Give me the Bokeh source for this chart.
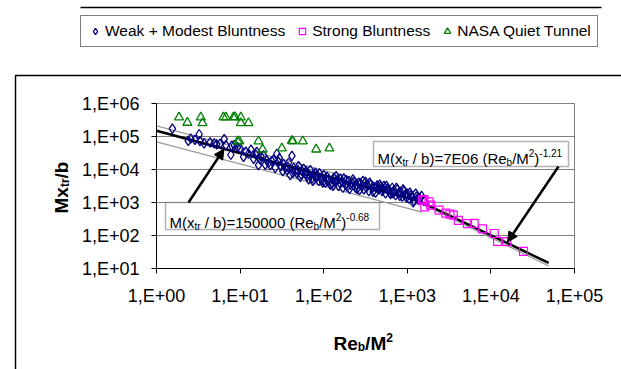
import math
from bokeh.plotting import figure
from bokeh.models import (Label, BoxAnnotation, Arrow, NormalHead, Legend, LegendItem,
                          CustomJSTickFormatter, FixedTicker)
from bokeh.embed import file_html
from bokeh.resources import INLINE

# ---------------- data ----------------
weak_re = [1.55, 2.40, 2.57, 2.88, 3.24, 3.31, 3.72, 4.37, 4.90, 5.25, 5.75, 6.46, 6.76, 7.76, 7.94, 8.51, 9.33, 10.0,
           11.0, 11.7, 12.6, 13.5, 14.5, 15.5, 15.8, 16.6, 17.4, 17.8, 19.1, 20.0, 20.9, 21.9, 22.9, 24.0, 25.1, 26.3,
           27.5, 28.8, 29.5, 30.9, 32.4, 33.1, 34.7, 36.3, 37.2, 38.0, 39.8, 41.7, 42.7, 43.7, 45.7, 47.9, 49.0, 50.1,
           52.5, 53.7, 55.0, 57.5, 60.3, 61.7, 63.1, 66.1, 67.6, 69.2, 72.4, 74.1, 75.9, 79.4, 81.3, 83.2, 87.1, 89.1,
           91.2, 95.5, 97.7, 100, 105, 110, 112, 115, 120, 126, 129, 132, 138, 141, 145, 151, 155, 158, 166, 170, 174,
           182, 186, 191, 200, 204, 209, 219, 224, 229, 240, 245, 251, 263, 269, 275, 288, 295, 302, 316, 324, 331, 347,
           355, 363, 380, 389, 398, 417, 427, 437, 457, 468, 479, 501, 513, 525, 550, 562, 575, 603, 617, 631, 661, 676,
           692, 724, 741, 759, 794, 813, 832, 871, 891, 912, 955, 977, 1000, 1047, 1072, 1096, 1148, 1175, 1202, 1259,
           1288, 1318, 1380, 1413, 1479, 1585]
weak_m = [174000, 74000, 87000, 79000, 117000, 72000, 62000, 66000, 62000, 57500, 60000, 83000, 55000, 28000, 52500,
          55000, 48000, 44000, 24000, 35000, 30000, 40000, 21000, 28000, 34000, 13500, 20000, 25000, 27000, 14000,
          19000, 16000, 13500, 18000, 20000, 11200, 30000, 17000, 22000, 12600, 8900, 14500, 11200, 9500, 12000, 16000,
          6800, 26000, 7900, 11200, 8900, 7600, 9500, 12600, 6000, 7100, 8900, 10500, 7600, 8900, 6300, 5000, 6600,
          9500, 5400, 4500, 7100, 7900, 5600, 6800, 4500, 7600, 5600, 4800, 4000, 6600, 4000, 6000, 4500, 5000, 3500,
          3800, 3200, 5600, 4200, 6300, 4800, 3200, 4000, 5250, 4200, 2800, 5400, 3500, 4800, 3000, 4500, 2600, 3500,
          3800, 5000, 4200, 2800, 3500, 2600, 4000, 2400, 3800, 3200, 4500, 2500, 4200, 2800, 3300, 2200, 4000, 3500,
          2750, 2100, 3000, 2000, 2800, 3300, 2500, 3500, 3000, 2200, 2600, 3200, 1900, 3200, 2600, 2400, 2000, 1800,
          2800, 1900, 2350, 1660, 2800, 2500, 2000, 1580, 2100, 1500, 2500, 2200, 1800, 1410, 1860, 1320, 2000, 1660,
          1480, 1000, 1120, 1860, 1500, 1260, 1170, 1320, 1580, 1120]

strong_re = [1514, 1585, 1622, 1820, 1905, 2399, 2884, 3236, 3548, 4074, 5248, 6310, 7943, 10965, 12023, 15488, 24547]
strong_m = [1175, 1230, 741, 1047, 832, 589, 479, 447, 417, 288, 229, 234, 158, 115, 66, 65, 33]

nasa_re = [1.86, 2.34, 3.39, 3.55, 6.31, 6.76, 8.32, 8.71, 10.2, 10.2, 12.6, 9.33, 9.77, 16.6, 18.6, 31.6, 41.7, 42.7,
           56.2, 81.3, 117]
nasa_m = [380000, 263000, 380000, 257000, 380000, 380000, 380000, 390000, 380000, 257000, 257000, 72000, 72000, 72000,
          40700, 43700, 74000, 72000, 72000, 40700, 43700]

fit1_re = [1, 1410]            # M(xtr/b) = 150000 (Re_b/M^2)^-0.68
fit1_m = [150000, 1085]
fit2_re = [1410, 49000]        # M(xtr/b) = 7E06 (Re_b/M^2)^-1.21
fit2_m = [1085, 14.8]
band_up_re = [1, 1500]
band_up_m = [210000, 1500]
band_lo_re = [1, 1500]
band_lo_m = [69000, 510]
band2_re = [1500, 49000]
band2_m = [900, 12]

x_ticks = [1, 10, 100, 1000, 10000, 100000]
x_tick_labels = ["1,E+00", "1,E+01", "1,E+02", "1,E+03", "1,E+04", "1,E+05"]
y_ticks = [10, 100, 1000, 10000, 100000, 1000000]
y_tick_labels = ["1,E+01", "1,E+02", "1,E+03", "1,E+04", "1,E+05", "1,E+06"]

eq1_parts = [("M(x", 0), ("tr", -1), (" / b)=150000 (Re", 0), ("b", -1), ("/M", 0), ("2", 1), (")", 0), ("-0.68", 1)]
eq2_parts = [("M(x", 0), ("tr", -1), (" / b)=7E06 (Re", 0), ("b", -1), ("/M", 0), ("2", 1), (")", 0), ("-1.21", 1)]
xlab_parts = [("Re", 0), ("b", -1), ("/M", 0), ("2", 1)]
ylab_parts = [("Mx", 0), ("tr", -1), ("/b", 0)]

# ---------------- layout helpers (pixel layout -> data coordinates) ----------------
W, H = 621, 369
FL, FR, FT, FB = 156, 574, 103, 268
DX = (FR - FL) / 5.0
DY = (FB - FT) / 5.0
LX0 = -FL / DX                 # log10 x at the canvas left edge
LY0 = 1 + FB / DY              # log10 y at the canvas top edge
FONT = "Liberation Sans"


def px2x(px):
    return 10 ** (LX0 + px / DX)


def py2y(py):
    return 10 ** (LY0 - py / DY)


REG = {' ': 278, '(': 333, ')': 333, '/': 278, '=': 584, '-': 333, '.': 278, ',': 278, '+': 584, 'E': 667,
       'M': 833, 'R': 722, 'b': 556, 'e': 556, 'r': 333, 't': 278, 'x': 500}
BOLD = {'M': 833, 'x': 556, 't': 333, 'r': 389, '/': 278, 'b': 611, 'R': 722, 'e': 556, '2': 556}


def tw(s, size, bold=False):
    t = BOLD if bold else REG
    return sum(t.get(c, 556) for c in s) * size / 1000.0


p = figure(width=W, height=H, x_axis_type="log", y_axis_type="log",
           x_range=(px2x(0), px2x(W)), y_range=(py2y(H), py2y(0)),
           output_backend="svg", toolbar_location=None,
           min_border=0, min_border_left=0, min_border_right=0, min_border_top=0, min_border_bottom=0)
p.background_fill_color = "white"
p.border_fill_color = "white"
p.outline_line_color = None
p.xgrid.grid_line_color = None
p.ygrid.grid_line_color = None

fmt_code = """
let best = 0, bd = 1e9;
for (let i = 0; i < tv.length; i++) {
  const d = Math.abs(Math.log10(tv[i]) - Math.log10(tick));
  if (d < bd) { bd = d; best = i; }
}
return tl[best];
"""
xa = p.xaxis[0]
ya = p.yaxis[0]
xa.fixed_location = y_ticks[0]
ya.fixed_location = x_ticks[0]
xa.bounds = (x_ticks[0], x_ticks[-1])
ya.bounds = (y_ticks[0], y_ticks[-1])
xa.ticker = FixedTicker(ticks=x_ticks)
ya.ticker = FixedTicker(ticks=y_ticks)
xa.formatter = CustomJSTickFormatter(args=dict(tv=x_ticks, tl=x_tick_labels), code=fmt_code)
ya.formatter = CustomJSTickFormatter(args=dict(tv=y_ticks, tl=y_tick_labels), code=fmt_code)
for ax in (xa, ya):
    ax.axis_line_color = "black"
    ax.axis_line_width = 1
    ax.major_tick_line_color = "black"
    ax.major_tick_in = 0
    ax.major_tick_out = 5
    ax.minor_tick_line_color = None
    ax.major_label_text_font = FONT
    ax.major_label_text_font_size = "18px"
    ax.major_label_text_color = "black"
xa.major_label_standoff = 12
ya.major_label_standoff = 12

# chart outer border (extends past the right and bottom edge of the picture)
p.line([px2x(15), px2x(15), px2x(W + 10)], [py2y(H + 10), py2y(75), py2y(75)],
       line_color="black", line_width=1.5)
# rule above the legend
p.line([px2x(80), px2x(601)], [py2y(7), py2y(7)], line_color="black", line_width=1.5)

# plot area: grid lines and gray frame (top/right)
p.multi_line([[x_ticks[0], x_ticks[-1]] for _ in y_ticks[1:]], [[v, v] for v in y_ticks[1:]],
             line_color="#808080", line_width=1)
p.line([x_ticks[-1], x_ticks[-1]], [y_ticks[0], y_ticks[-1]], line_color="#808080", line_width=1)

# lines
p.line(band_up_re, band_up_m, line_color="#999999", line_width=1.2)
p.line(band_lo_re, band_lo_m, line_color="#999999", line_width=1.2)
p.line(band2_re, band2_m, line_color="#999999", line_width=1.2)
p.line(fit1_re, fit1_m, line_color="black", line_width=2.5)
p.line(fit2_re, fit2_m, line_color="black", line_width=2.5)

r_weak = p.scatter(weak_re, weak_m, marker="diamond", size=9.5, fill_color=None, line_color="#000080",
                   line_width=1.3)
r_strong = p.scatter(strong_re, strong_m, marker="square", size=8, fill_color=None, line_color="#FF00FF",
                     line_width=1.2)
r_nasa = p.scatter(nasa_re, nasa_m, marker="triangle", size=9, fill_color=None, line_color="#008000",
                   line_width=1.3)

legend = Legend(items=[LegendItem(label="Weak + Modest Bluntness", renderers=[r_weak]),
                       LegendItem(label="Strong Bluntness", renderers=[r_strong]),
                       LegendItem(label="NASA Quiet Tunnel", renderers=[r_nasa])],
                orientation="horizontal", location=(80, H - 47),
                label_text_font=FONT, label_text_font_size="15.5px", label_text_color="black",
                glyph_width=16, glyph_height=18, label_height=18, label_standoff=2, spacing=9, padding=6,
                margin=0, border_line_color="black", border_line_width=1, background_fill_color="white",
                background_fill_alpha=1)
p.add_layout(legend)


def place_runs(x_px, base_py, parts, size, small, bold=False):
    x = x_px
    for s, lvl in parts:
        fs = size if lvl == 0 else small
        while s.startswith(" "):
            x += tw(" ", fs, bold)
            s = s[1:]
        dy = 0 if lvl == 0 else (-3.5 if lvl < 0 else 6)
        p.add_layout(Label(x=px2x(x), y=py2y(base_py - dy), text=s, text_font=FONT,
                           text_font_size="%.1fpx" % fs, text_font_style="bold" if bold else "normal",
                           text_color="black", text_align="left", text_baseline="alphabetic"))
        x += tw(s, fs, bold)


# equation boxes and arrows
p.add_layout(BoxAnnotation(left=px2x(165), right=px2x(379), top=py2y(202), bottom=py2y(229),
                           fill_color="white", fill_alpha=1, line_color="black", line_width=1.5))
place_runs(169, 222, eq1_parts, 15, 10)
p.add_layout(BoxAnnotation(left=px2x(373), right=px2x(568), top=py2y(141), bottom=py2y(166),
                           fill_color="white", fill_alpha=1, line_color="black", line_width=1.5))
place_runs(377, 158, eq2_parts, 15, 10)

p.add_layout(Arrow(end=NormalHead(size=10, fill_color="black", line_color="black"),
                   x_start=px2x(188), y_start=py2y(202), x_end=px2x(223.5), y_end=py2y(148.5),
                   line_color="black", line_width=2.5))
p.add_layout(Arrow(end=NormalHead(size=10, fill_color="black", line_color="black"),
                   x_start=px2x(558), y_start=py2y(166), x_end=px2x(507), y_end=py2y(241.5),
                   line_color="black", line_width=2.5))

# axis titles
place_runs(333, 343, xlab_parts, 19, 12, bold=True)

y_x = 61
yy = 213
for s, lvl in ylab_parts:
    fs = 19 if lvl == 0 else 12
    dx = 0 if lvl == 0 else 3.5
    p.add_layout(Label(x=px2x(y_x + dx), y=py2y(yy), text=s, text_font=FONT, text_font_size="%dpx" % fs,
                       text_font_style="bold", angle=math.pi / 2, text_color="black",
                       text_align="left", text_baseline="alphabetic"))
    yy -= tw(s, fs, True)

open("out.html", "w").write(file_html(p, INLINE))
